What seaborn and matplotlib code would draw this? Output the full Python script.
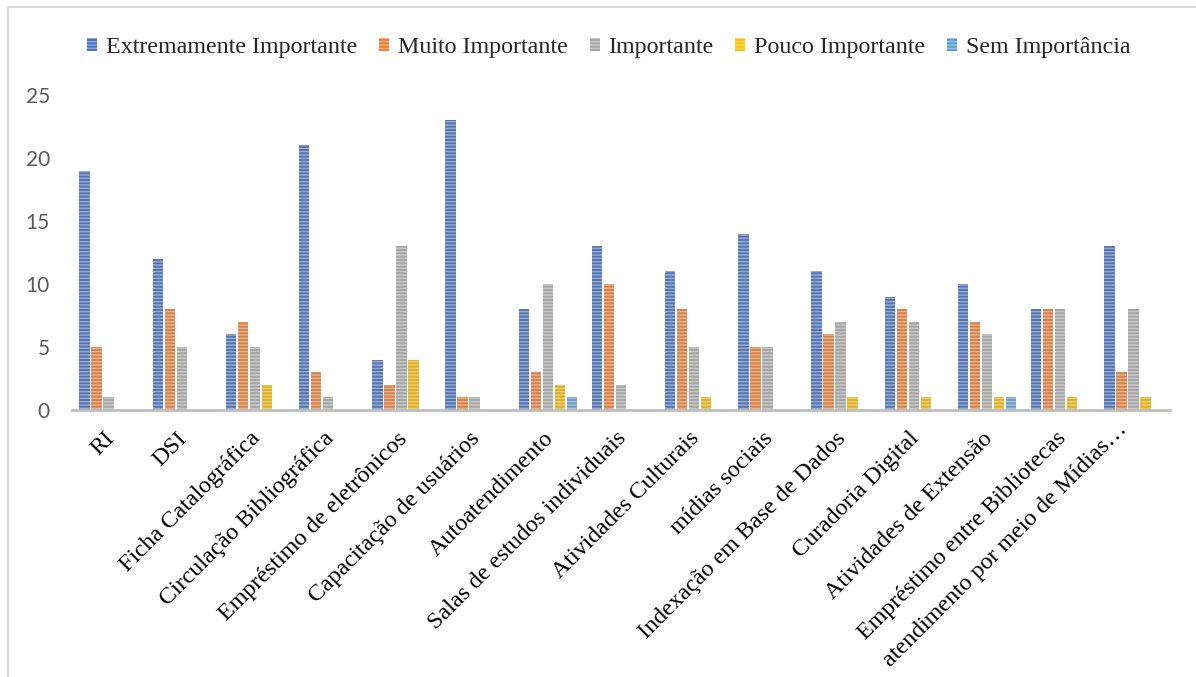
import matplotlib
matplotlib.use("Agg")
import matplotlib.pyplot as plt
from matplotlib.patches import Patch, Rectangle
from matplotlib.transforms import ScaledTranslation
import seaborn as sns
import pandas as pd

categorias = [
    "RI", "DSI", "Ficha Catalográfica", "Circulação Bibliográfica",
    "Empréstimo de eletrônicos", "Capacitação de usuários", "Autoatendimento",
    "Salas de estudos individuais", "Atividades Culturais", "mídias sociais",
    "Indexação em Base de Dados", "Curadoria Digital", "Atividades de Extensão",
    "Empréstimo entre Bibliotecas", "atendimento por meio de Mídias…",
]
niveis = ["Extremamente Importante", "Muito Importante", "Importante",
          "Pouco Importante", "Sem Importância"]

extremamente = [19, 12, 6, 21, 4, 23, 8, 13, 11, 14, 11, 9, 10, 8, 13]
muito = [5, 8, 7, 3, 2, 1, 3, 10, 8, 5, 6, 8, 7, 8, 3]
importante = [1, 5, 5, 1, 13, 1, 10, 2, 5, 5, 7, 7, 6, 8, 8]
pouco = [0, 0, 2, 0, 4, 0, 2, 0, 1, 0, 1, 1, 1, 1, 1]
sem = [0, 0, 0, 0, 0, 0, 1, 0, 0, 0, 0, 0, 1, 0, 0]

cores = ["#4472C4", "#ED7D31", "#A5A5A5", "#FFC000", "#5B9BD5"]

series = [extremamente, muito, importante, pouco, sem]
df = pd.DataFrame(
    [(c, n, v) for n, vals in zip(niveis, series) for c, v in zip(categorias, vals)],
    columns=["servico", "nivel", "valor"],
)

sns.set_style("white")
plt.rcParams["hatch.linewidth"] = 1.0
serif = ["Liberation Serif", "DejaVu Serif"]

fig = plt.figure(figsize=(11.96, 6.77), dpi=100)
ax = fig.add_axes([72 / 1196, 0.3944, 1098 / 1196, 0.4653])

listra = (1, 1, 1, 0.4)
sns.barplot(
    data=df, x="servico", y="valor", hue="nivel",
    order=categorias, hue_order=niveis, palette=cores,
    width=0.82, gap=0.12, linewidth=0, edgecolor=listra, hatch="-----",
    errorbar=None, legend=False, ax=ax,
)

ax.set_ylim(0, 25)
ax.set_yticks([0, 5, 10, 15, 20, 25])
ax.set_xlabel("")
ax.set_ylabel("")
for s in ["top", "right", "left"]:
    ax.spines[s].set_visible(False)
ax.spines["bottom"].set_color("#BFBFBF")
ax.spines["bottom"].set_linewidth(2.0)
ax.grid(False)

ax.tick_params(axis="y", length=0, pad=16, labelcolor="#595959", labelsize=15)
for lab in ax.get_yticklabels():
    lab.set_family(["Lato", "DejaVu Sans"])
ax.tick_params(axis="x", length=0, pad=13)
ax.set_xticks(range(len(categorias)))
ax.set_xticklabels(categorias, rotation=45, ha="right", rotation_mode="anchor",
                   fontsize=17.3, family=serif, color="black")
rotulos = ax.get_xticklabels()
for i, lab in enumerate(rotulos):
    # the long truncated last label sits a little higher along its diagonal
    dx, dy = (-0.17, 0.09) if i == len(rotulos) - 1 else (-0.05, 0)
    lab.set_transform(lab.get_transform()
                      + ScaledTranslation(dx, dy, fig.dpi_scale_trans))

handles = [Patch(facecolor=c, edgecolor=listra, hatch="-----", linewidth=0)
           for c in cores]
fig.legend(handles, niveis, loc="center", bbox_to_anchor=(0.509, 0.930),
           ncol=5, frameon=False, prop={"family": serif, "size": 17.3},
           handlelength=0.42, handleheight=0.42, handletextpad=0.35,
           columnspacing=0.92)

fig.patches.append(Rectangle((8 / 1196, -0.05), 1.2, 0.9897 + 0.05,
                             transform=fig.transFigure, fill=False,
                             edgecolor="#D9D9D9", linewidth=1.5))

fig.savefig("out.png", dpi=100)
